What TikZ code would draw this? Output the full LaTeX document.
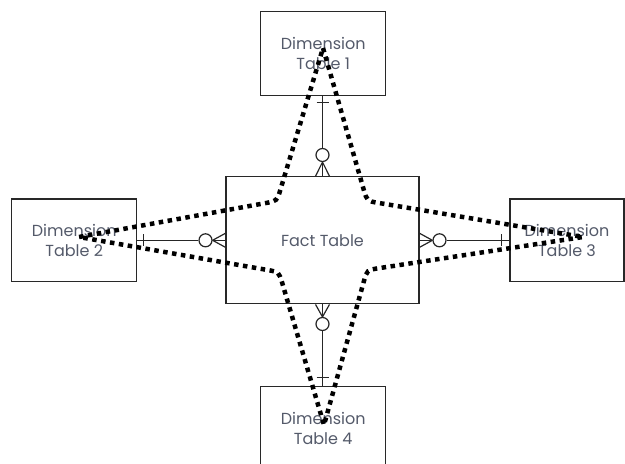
\documentclass[tikz,border=0pt]{standalone}
\usepackage{fontspec}
\setmainfont{Poppins}
\usetikzlibrary{calc}
\definecolor{labelgray}{RGB}{84,90,106}
\definecolor{edgegray}{RGB}{40,40,40}
\tikzset{
  table/.style={draw=edgegray, line width=1.2pt, fill=white, inner sep=0pt,
    align=center, text=labelgray, font=\fontsize{16}{20.5}\selectfont},
  link/.style={draw=black!85, line width=1.2pt},
  ring/.style={circle, draw=black!85, line width=1.2pt, fill=white,
    minimum size=13pt, inner sep=0pt},
  starline/.style={draw=black, line width=4.5pt, dash pattern=on 4.5pt off 4.5pt}
}
\begin{document}
\begin{tikzpicture}[x=1pt,y=-1pt]
\useasboundingbox (0,0) rectangle (625,464);
\clip (0,0) rectangle (625,464);

% tables
\node[table, minimum width=193pt, minimum height=127pt] (fact) at (322.5,240.3) {Fact Table};
\node[table, minimum width=125pt, minimum height=84pt] (d1) at (323.2,53.7) {Dimension\\Table 1};
\node[table, minimum width=125pt, minimum height=82.7pt] (d2) at (74.2,240.3) {Dimension\\Table 2};
\node[table, minimum width=114pt, minimum height=82.7pt] (d3) at (567,240.3) {Dimension\\Table 3};
\node[table, minimum width=125pt, minimum height=84pt] (d4) at (323.2,428.7) {Dimension\\Table 4};

% optional-many ends (rings)
\node[ring] (r1) at (322.5,155) {};
\node[ring] (r2) at (205.5,240.3) {};
\node[ring] (r3) at (439.5,240.3) {};
\node[ring] (r4) at (322.5,324) {};

% top relationship
\draw[link] (d1.south -| r1) -- (r1.north);
\draw[link] ($(d1.south -| r1)+(-6,6)$) -- ($(d1.south -| r1)+(6,6)$);
\draw[link] (r1.south) -- (fact.north -| r1);
\draw[link] (r1.south) -- ($(fact.north -| r1)+(-7,0)$);
\draw[link] (r1.south) -- ($(fact.north -| r1)+(7,0)$);

% left relationship
\draw[link] (d2.east |- r2) -- (r2.west);
\draw[link] ($(d2.east |- r2)+(6.5,-6)$) -- ($(d2.east |- r2)+(6.5,6)$);
\draw[link] (r2.east) -- (fact.west |- r2);
\draw[link] (r2.east) -- ($(fact.west |- r2)+(0,-7)$);
\draw[link] (r2.east) -- ($(fact.west |- r2)+(0,7)$);

% right relationship
\draw[link] (d3.west |- r3) -- (r3.east);
\draw[link] ($(d3.west |- r3)+(-8,-6)$) -- ($(d3.west |- r3)+(-8,6)$);
\draw[link] (r3.west) -- (fact.east |- r3);
\draw[link] (r3.west) -- ($(fact.east |- r3)+(0,-7)$);
\draw[link] (r3.west) -- ($(fact.east |- r3)+(0,7)$);

% bottom relationship
\draw[link] (d4.north -| r4) -- (r4.south);
\draw[link] ($(d4.north -| r4)+(-6,-8.5)$) -- ($(d4.north -| r4)+(6,-8.5)$);
\draw[link] (r4.north) -- (fact.south -| r4);
\draw[link] (r4.north) -- ($(fact.south -| r4)+(-7,0)$);
\draw[link] (r4.north) -- ($(fact.south -| r4)+(7,0)$);

% dotted four-pointed star
\coordinate (sT) at (323,48);
\coordinate (sTR) at (367,201);
\coordinate (sR) at (583,237);
\coordinate (sBR) at (367,270);
\coordinate (sB) at (324,425);
\coordinate (sBL) at (279,272);
\coordinate (sL) at (79,237);
\coordinate (sTL) at (277,201);
\draw[starline]
  (sT) -- ($(sTR)!12pt!(sT)$) .. controls (sTR) .. ($(sTR)!12pt!(sR)$)
  -- (sR) -- ($(sBR)!12pt!(sR)$) .. controls (sBR) .. ($(sBR)!12pt!(sB)$)
  -- (sB) -- ($(sBL)!12pt!(sB)$) .. controls (sBL) .. ($(sBL)!12pt!(sL)$)
  -- (sL) -- ($(sTL)!12pt!(sL)$) .. controls (sTL) .. ($(sTL)!12pt!(sT)$)
  -- cycle;
\end{tikzpicture}
\end{document}
